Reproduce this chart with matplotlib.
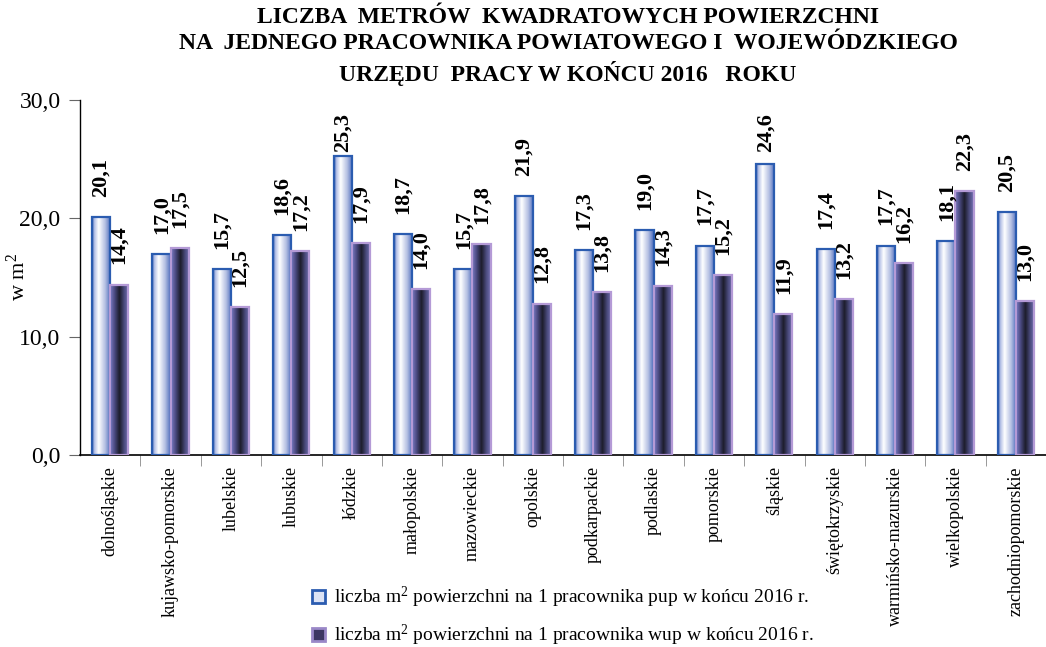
import numpy as np
import matplotlib
matplotlib.use('Agg')
import matplotlib.pyplot as plt
from matplotlib.colors import LinearSegmentedColormap
from matplotlib.patches import Patch

# Data
regions = ['dolnośląskie', 'kujawsko-pomorskie', 'lubelskie', 'lubuskie', 'łódzkie',
           'małopolskie', 'mazowieckie', 'opolskie', 'podkarpackie', 'podlaskie',
           'pomorskie', 'śląskie', 'świętokrzyskie', 'warmińsko-mazurskie',
           'wielkopolskie', 'zachodniopomorskie']
pup = [20.1, 17.0, 15.7, 18.6, 25.3, 18.7, 15.7, 21.9, 17.3, 19.0, 17.7, 24.6, 17.4, 17.7, 18.1, 20.5]
wup = [14.4, 17.5, 12.5, 17.2, 17.9, 14.0, 17.8, 12.8, 13.8, 14.3, 15.2, 11.9, 13.2, 16.2, 22.3, 13.0]
yticks = [0, 10, 20, 30]
ytick_labels = ['0,0', '10,0', '20,0', '30,0']
legend_labels = ['liczba m$^2$ powierzchni na 1 pracownika pup w końcu 2016 r.',
                 'liczba m$^2$ powierzchni na 1 pracownika wup w końcu 2016 r.']
title = ('LICZBA  METRÓW  KWADRATOWYCH POWIERZCHNI\n'
         'NA  JEDNEGO PRACOWNIKA POWIATOWEGO I  WOJEWÓDZKIEGO\n'
         'URZĘDU  PRACY W KOŃCU 2016   ROKU')

plt.rcParams['font.family'] = ['Liberation Serif', 'DejaVu Serif']
plt.rcParams['mathtext.fontset'] = 'custom'
plt.rcParams['mathtext.rm'] = 'Liberation Serif'
plt.rcParams['mathtext.it'] = 'Liberation Serif'

pup_cmap = LinearSegmentedColormap.from_list(
    'pup', [(0, '#3d60b4'), (0.12, '#b4c0e6'), (0.35, '#ffffff'), (0.7, '#b4bfe2'), (1, '#4c6abb')])
wup_cmap = LinearSegmentedColormap.from_list(
    'wup', [(0, '#7c7ac2'), (0.25, '#48487e'), (0.5, '#1c1c2a'), (0.75, '#4a4a7c'), (1, '#7472b4')])
grad = np.linspace(0, 1, 64).reshape(1, -1)

fig = plt.figure(figsize=(10.46, 6.47), dpi=100)
ax = fig.add_axes([80 / 1046, 1 - 455 / 647, 966 / 1046, 355 / 647])

x = np.arange(len(regions))
w = 0.3


def gradient_bars(xpos, vals, cmap, edge):
    bars = ax.bar(xpos, vals, width=w, align='edge', facecolor='none',
                  edgecolor=edge, linewidth=1.6, zorder=3)
    for b in bars:
        x0, h = b.get_x(), b.get_height()
        im = ax.imshow(grad, cmap=cmap, aspect='auto', extent=(x0, x0 + w, 0, h),
                       zorder=2, interpolation='bilinear')
        im.set_clip_path(b)
    return bars


gradient_bars(x - w, pup, pup_cmap, '#2b5cb0')
gradient_bars(x, wup, wup_cmap, '#b49ad6')

# value labels
for xs, vals in ((x - w / 2, pup), (x + w / 2, wup)):
    for xi, v in zip(xs, vals):
        ax.text(xi, min(v + 1.7, 25.6), f'{v:.1f}'.replace('.', ','), rotation=90,
                ha='center', va='bottom', fontsize=16, fontweight='bold', zorder=4)

ax.set_xlim(-0.5, 15.36)
ax.set_ylim(0, 30)
ax.set_yticks(yticks)
ax.set_yticklabels(ytick_labels, fontsize=17)
ax.set_xticks(x)
ax.set_xticklabels(regions, rotation=90, fontsize=13)
ax.tick_params(axis='x', length=0, pad=8)
ax.set_xticks(np.arange(len(regions)) + 0.5, minor=True)
ax.tick_params(axis='x', which='minor', length=8, color='#888888')
ax.tick_params(axis='y', length=8, color='#666666', pad=6)
ax.spines['top'].set_visible(False)
ax.spines['right'].set_visible(False)
ax.spines['left'].set_linewidth(1.0)
ax.spines['bottom'].set_linewidth(1.2)
ax.set_ylabel('w m$^2$', fontsize=16)
ax.yaxis.set_label_coords(-50 / 966, 0.5)

fig.text(568 / 1046, 1 - 7 / 647, title, ha='center', va='top', fontsize=17,
         fontweight='bold', linespacing=1.32)

handles = [Patch(facecolor='#dce3f5', edgecolor='#2b5cb0', linewidth=2),
           Patch(facecolor='#3c3662', edgecolor='#9a88c8', linewidth=2)]
fig.legend(handles, legend_labels, loc='upper left', bbox_to_anchor=(312 / 1046, 1 - 585 / 647),
           frameon=False, fontsize=14, handlelength=0.65, handleheight=0.65,
           handletextpad=0.5, labelspacing=0.66, borderpad=0, borderaxespad=0)

fig.savefig('out.png', dpi=100)
